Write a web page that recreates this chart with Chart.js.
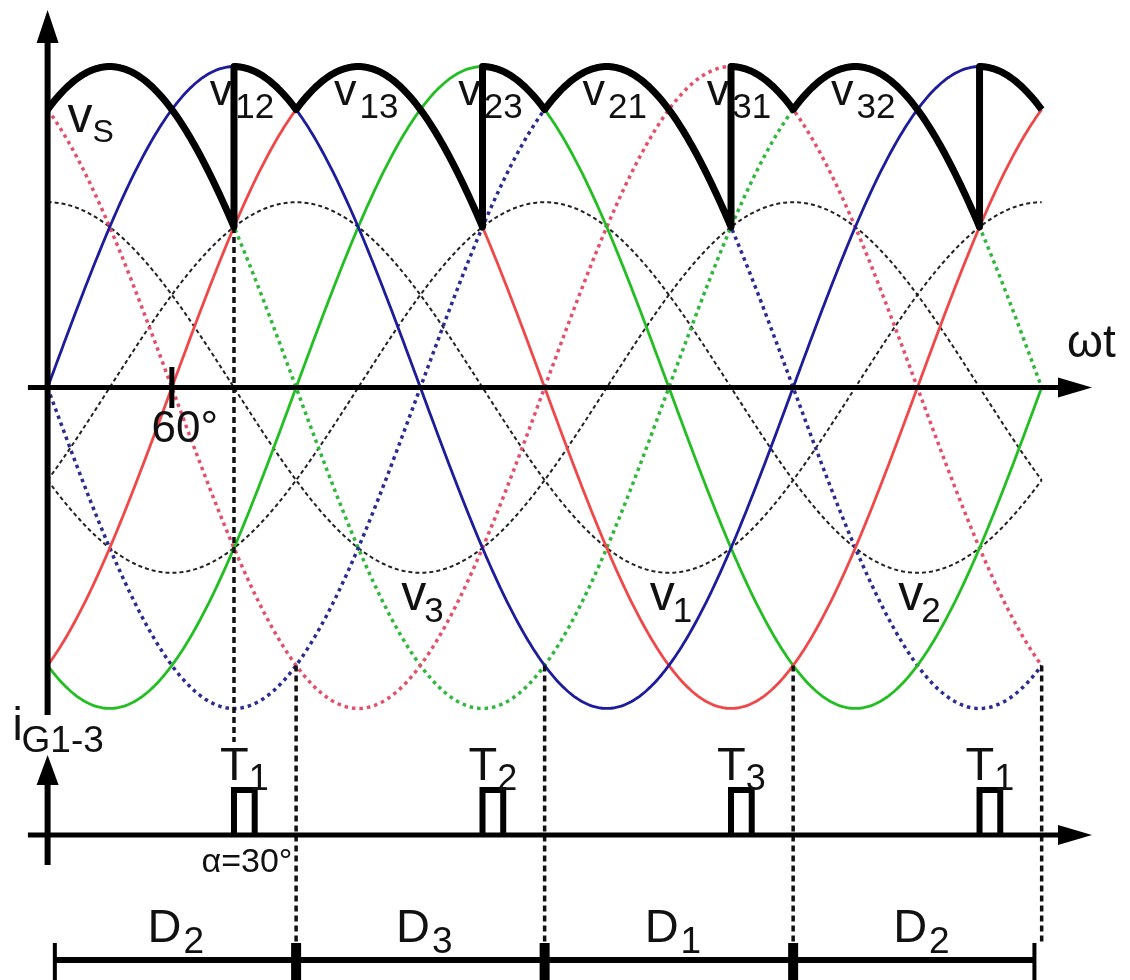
<!DOCTYPE html>
<html>
<head>
<meta charset="utf-8">
<script src="https://cdn.jsdelivr.net/npm/chart.js"></script>
<style>
  html, body { margin: 0; padding: 0; background: #fff; }
  canvas { display: block; }
</style>
</head>
<body>
<canvas id="wave" width="1130" height="980"></canvas>
<script>
// Phase voltages: angle of the peak (deg) and amplitude (per unit)
const phaseNames = ["v1", "v2", "v3"];
const phasePeakDeg = [120, 240, 0];
const phaseAmp = [1, 1, 1];

// Line voltages, each one = phase a - phase b
const lineNames = ["v12", "v13", "v23", "v21", "v31", "v32"];
const linePairs = [[0, 1], [0, 2], [1, 2], [1, 0], [2, 0], [2, 1]];
const lineColors = ["#1c1c9c", "#f04848", "#22be22", "#2b2b92", "#e4506c", "#2fb83c"];
const lineDotted = [false, false, false, true, true, true];

// Output voltage vS: line voltage followed between switching angles
const outputSwitchDeg = [0, 90, 120, 210, 240, 330, 360, 450, 480];
const outputLine = ["v32", "v12", "v13", "v23", "v21", "v31", "v32", "v12"];

// Gate pulses iG1-3
const pulseNames = ["1", "2", "3", "1"];
const firingDeg = [90, 210, 330, 450];
const pulseWidthDeg = 10;

// Diode conduction intervals
const diodeNames = ["2", "3", "1", "2"];
const diodeBoundsDeg = [0, 120, 240, 360, 480];

// angle marks on the wt axis
const angleTicks = [60];
const angleTickLabels = ["60°"];

const ANGLE_END = 480;

// scale window (deg / per unit)
const X_MIN = -22.98, X_MAX = 522.65;
const Y_MIN = -3.1975, Y_MAX = 2.0912;

// layout of the drawing, in the chart's own units
const AXIS_LEFT = -9.5, AXIS_TIP = 504.3;
const TOP_TIP = 2.037, MAIN_AXIS_BOTTOM = -1.767;
const GATE_TIP = -1.983, GATE_AXIS_BOTTOM = -2.577;
const PULSE_AXIS = -2.415, PULSE_H = 0.243;
const D_LINE = -3.09, D_TICK_TOP = -2.998, D_END_INSET = 3.5;
const GUIDE_GATE_END = -1.913;

const rad = d => d * Math.PI / 180;

function phaseValue(i, deg) {
  return phaseAmp[i] * Math.cos(rad(deg - phasePeakDeg[i]));
}

function lineValue(j, deg) {
  const [a, b] = linePairs[j];
  return phaseValue(a, deg) - phaseValue(b, deg);
}

function sample(fn) {
  const pts = [];
  for (let d = 0; d <= ANGLE_END; d += 1) pts.push({ x: d, y: fn(d) });
  return pts;
}

const datasets = [];

// output envelope (on top)
let env = [];
for (let k = 0; k < outputLine.length; k++) {
  const j = lineNames.indexOf(outputLine[k]);
  for (let d = outputSwitchDeg[k]; d <= outputSwitchDeg[k + 1]; d += 1) {
    env.push({ x: d, y: lineValue(j, d) });
  }
}
datasets.push({
  data: env, borderColor: "#000", borderWidth: 7,
  borderJoinStyle: "round", order: 1
});

// axes, ticks, pulses, diode bar
const black = (data, w, extra) => Object.assign({
  data: data, borderColor: "#000", borderWidth: w, order: 2
}, extra || {});

datasets.push(black([{ x: AXIS_LEFT, y: 0 }, { x: AXIS_TIP - 10, y: 0 }], 5));
datasets.push(black([{ x: AXIS_LEFT, y: PULSE_AXIS }, { x: AXIS_TIP - 10, y: PULSE_AXIS }], 5));
datasets.push(black([{ x: 0, y: MAIN_AXIS_BOTTOM }, { x: 0, y: TOP_TIP - 0.1 }], 6));
datasets.push(black([{ x: 0, y: GATE_AXIS_BOTTOM }, { x: 0, y: GATE_TIP - 0.1 }], 6));

let tickPts = [];
angleTicks.forEach(a => {
  tickPts.push({ x: a, y: 0.11 }, { x: a, y: -0.11 }, { x: a, y: null });
});
datasets.push(black(tickPts, 5));

let pulsePts = [];
firingDeg.forEach(f => {
  pulsePts.push(
    { x: f, y: PULSE_AXIS }, { x: f, y: PULSE_AXIS + PULSE_H },
    { x: f + pulseWidthDeg, y: PULSE_AXIS + PULSE_H }, { x: f + pulseWidthDeg, y: PULSE_AXIS },
    { x: f, y: null }
  );
});
datasets.push(black(pulsePts, 6, { borderJoinStyle: "miter" }));

const dFirst = diodeBoundsDeg[0] + D_END_INSET;
const dLast = diodeBoundsDeg[diodeBoundsDeg.length - 1] - D_END_INSET;
datasets.push(black([{ x: dFirst, y: D_LINE }, { x: dLast, y: D_LINE }], 6));
let innerTicks = [];
diodeBoundsDeg.slice(1, -1).forEach(b => {
  innerTicks.push({ x: b, y: D_TICK_TOP }, { x: b, y: Y_MIN }, { x: b, y: null });
});
datasets.push(black(innerTicks, 10));
datasets.push(black([
  { x: dFirst, y: D_TICK_TOP }, { x: dFirst, y: Y_MIN }, { x: dFirst, y: null },
  { x: dLast, y: D_TICK_TOP }, { x: dLast, y: Y_MIN }
], 4));

// vertical guide lines
let guides = [];
{
  const f = firingDeg[0];
  const k = outputSwitchDeg.indexOf(f);
  const before = lineNames.indexOf(outputLine[k - 1]);
  guides.push({ x: f, y: lineValue(before, f) }, { x: f, y: GUIDE_GATE_END }, { x: f, y: null });
}
diodeBoundsDeg.slice(1).forEach(b => {
  const low = Math.min(...lineNames.map((n, j) => lineValue(j, b)));
  guides.push({ x: b, y: low }, { x: b, y: D_TICK_TOP }, { x: b, y: null });
});
datasets.push({
  data: guides, borderColor: "#111", borderWidth: 3.5,
  borderDash: [6, 4], order: 4
});

// line voltages
lineNames.forEach((n, j) => {
  datasets.push({
    label: n, data: sample(d => lineValue(j, d)),
    borderColor: lineColors[j],
    borderWidth: lineDotted[j] ? 3.5 : 2.8,
    borderDash: lineDotted[j] ? [3.5, 4] : [],
    order: 5
  });
});

// phase voltages
phaseNames.forEach((n, i) => {
  datasets.push({
    label: n, data: sample(d => phaseValue(i, d)),
    borderColor: "#222", borderWidth: 2, borderDash: [4, 3], order: 6
  });
});

const FONT = '"Liberation Sans", Arial, sans-serif';

function subText(ctx, main, sub, cx, base, mainSize, subSize, drop, gap) {
  ctx.font = mainSize + "px " + FONT;
  const w1 = ctx.measureText(main).width;
  ctx.font = subSize + "px " + FONT;
  const w2 = ctx.measureText(sub).width;
  const left = cx - (w1 + gap + w2) / 2;
  ctx.font = mainSize + "px " + FONT;
  ctx.fillText(main, left, base);
  ctx.font = subSize + "px " + FONT;
  ctx.fillText(sub, left + w1 + gap, base + drop);
}

const decorations = {
  id: "decorations",
  afterDatasetsDraw(chart) {
    const ctx = chart.ctx;
    const xs = chart.scales.x, ys = chart.scales.y;
    const X = v => xs.getPixelForValue(v), Y = v => ys.getPixelForValue(v);
    ctx.save();
    ctx.fillStyle = "#000";
    // arrow heads
    [0, PULSE_AXIS].forEach(v => {
      const tx = X(AXIS_TIP), ty = Y(v);
      ctx.beginPath();
      ctx.moveTo(tx, ty); ctx.lineTo(tx - 34, ty - 10); ctx.lineTo(tx - 34, ty + 10);
      ctx.closePath(); ctx.fill();
    });
    [[TOP_TIP, 33], [GATE_TIP, 30]].forEach(([v, len]) => {
      const tx = X(0), ty = Y(v);
      ctx.beginPath();
      ctx.moveTo(tx, ty); ctx.lineTo(tx - 11, ty + len); ctx.lineTo(tx + 11, ty + len);
      ctx.closePath(); ctx.fill();
    });

    ctx.fillStyle = "#111";
    ctx.textBaseline = "alphabetic";
    ctx.textAlign = "left";

    // line voltage names above their peaks
    lineNames.forEach((n, j) => {
      let peak = 0, peakV = -9;
      for (let d = 0; d < 360; d++) {
        const v = lineValue(j, d);
        if (v > peakV) { peakV = v; peak = d; }
      }
      if (peak < 60) peak += 360;
      subText(ctx, "v", n.slice(1), X(peak) + 8, Y(peakV) + 38.5, 45, 35, 13, 3);
    });

    // output label
    ctx.font = "50px " + FONT;
    ctx.fillText("v", X(0) + 20, Y(env[0].y) + 22);
    ctx.font = "32px " + FONT;
    ctx.fillText("S", X(0) + 45, Y(env[0].y) + 32);

    // phase names under their troughs
    phaseNames.forEach((n, i) => {
      const trough = phasePeakDeg[i] + 180;
      subText(ctx, "v", n.slice(1), X(trough) + 2, Y(-phaseAmp[i]) + 37, 50, 35, 12, -2);
    });

    // angle ticks
    ctx.font = "44px " + FONT;
    ctx.textAlign = "center";
    angleTicks.forEach((a, k) => {
      ctx.fillText(angleTickLabels[k], X(a) + 13, Y(0) + 54);
    });
    ctx.textAlign = "left";
    ctx.font = "46px " + FONT;
    ctx.fillText("ωt", X(AXIS_TIP) - 25, Y(0) - 31);

    // gate pulses
    firingDeg.forEach((f, k) => {
      subText(ctx, "T", pulseNames[k], X(f + pulseWidthDeg / 2), Y(PULSE_AXIS + PULSE_H) - 10, 47, 36, 10, 0);
    });
    ctx.textAlign = "center";
    ctx.font = "34px " + FONT;
    ctx.fillText("α=30°", X(firingDeg[0]) + 13, Y(PULSE_AXIS) + 37);
    ctx.textAlign = "left";

    // gate current label
    ctx.font = "46px " + FONT;
    ctx.fillText("i", X(0) - 35, Y(GATE_TIP) - 15);
    ctx.font = "37px " + FONT;
    ctx.fillText("G1-3", X(0) - 26, Y(GATE_TIP) - 3);

    // diode intervals
    diodeNames.forEach((d, k) => {
      const mid = (diodeBoundsDeg[k] + diodeBoundsDeg[k + 1]) / 2;
      subText(ctx, "D", d, X(mid) + 4, Y(D_LINE) - 18, 47, 37, 11, 2);
    });
    ctx.restore();
  }
};

new Chart(document.getElementById("wave"), {
  type: "line",
  data: { datasets: datasets },
  options: {
    responsive: false,
    animation: false,
    spanGaps: false,
    layout: { padding: 0, autoPadding: false },
    elements: {
      point: { radius: 0, hoverRadius: 0 },
      line: { tension: 0, fill: false, borderCapStyle: "butt" }
    },
    plugins: { legend: { display: false }, tooltip: { enabled: false } },
    events: [],
    scales: {
      x: { type: "linear", min: X_MIN, max: X_MAX, display: false },
      y: { type: "linear", min: Y_MIN, max: Y_MAX, display: false }
    }
  },
  plugins: [decorations]
});
</script>
</body>
</html>
